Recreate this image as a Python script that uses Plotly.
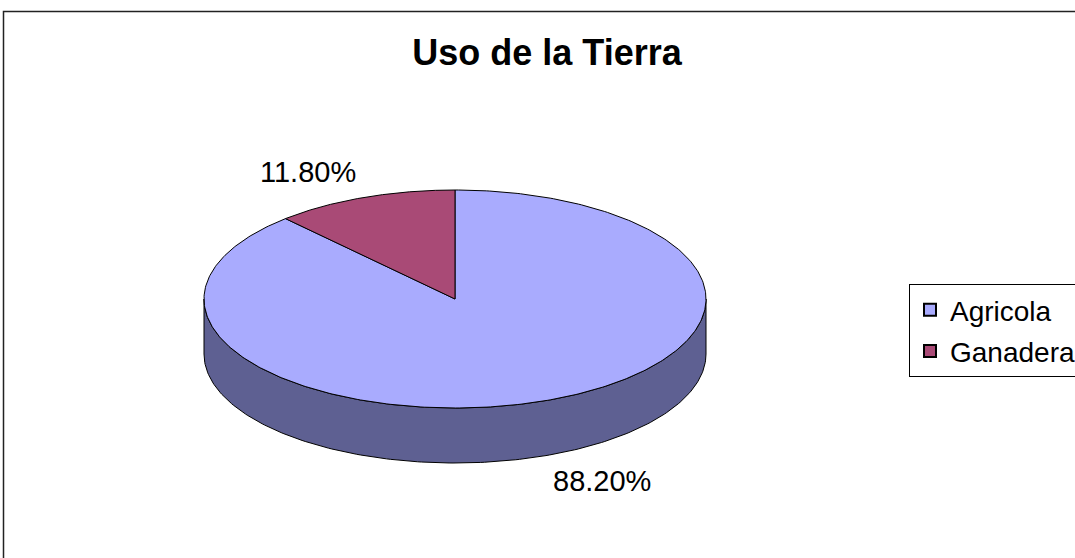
import numpy as np
import plotly.graph_objects as go

# ---- data ----
title_text = "Uso de la Tierra"
categories = ["Agricola", "Ganadera"]
values = [88.2, 11.8]
top_colors = ["#A9ABFE", "#A94A76"]
side_colors = ["#5E6092", "#6B2F4B"]

# ---- geometry (pixel space) ----
W, H = 1075, 558
cx, cy = 455.0, 299.0
rx, ry = 251.0, 109.0
depth = 55.0


def pt(theta_deg, dy=0.0):
    t = np.radians(theta_deg)
    return cx + rx * np.sin(t), cy - ry * np.cos(t) + dy


fig = go.Figure()

total = float(sum(values))
starts, ends = [], []
acc = 0.0
for v in values:
    starts.append(acc)
    acc += v / total * 360.0
    ends.append(acc)

# side walls (visible front half: theta 90..270)
for i, cat in enumerate(categories):
    a0, a1 = max(starts[i], 90.0), min(ends[i], 270.0)
    if a1 <= a0:
        continue
    th = np.linspace(a0, a1, 200)
    xs_top, ys_top = pt(th)
    xs_bot, ys_bot = pt(th[::-1], depth)
    xs = np.concatenate([xs_top, xs_bot, xs_top[:1]])
    ys = np.concatenate([ys_top, ys_bot, ys_top[:1]])
    fig.add_trace(go.Scatter(x=xs, y=ys, mode="lines", fill="toself",
                             fillcolor=side_colors[i],
                             line=dict(color="#000000", width=1),
                             hoverinfo="skip", showlegend=False))

# top faces
for i, cat in enumerate(categories):
    th = np.linspace(starts[i], ends[i], 400)
    ex, ey = pt(th)
    xs = np.concatenate([[cx], ex, [cx]])
    ys = np.concatenate([[cy], ey, [cy]])
    fig.add_trace(go.Scatter(x=xs, y=ys, mode="lines", fill="toself",
                             fillcolor=top_colors[i],
                             line=dict(color="#000000", width=1),
                             hoverinfo="skip", showlegend=False))

# percentage labels
for i, cat in enumerate(categories):
    mid = np.radians((starts[i] + ends[i]) / 2.0)
    lx = cx + 405.0 * np.sin(mid)
    ly = cy - 136.0 * np.cos(mid) + (depth if np.cos(mid) < 0 else 0.0)
    fig.add_annotation(x=lx, y=ly, xref="x", yref="y",
                       text=f"{values[i] / total * 100:.2f}%",
                       showarrow=False,
                       font=dict(family="Liberation Sans, Arial", size=29, color="#000000"))

# legend entries
for i, cat in enumerate(categories):
    fig.add_trace(go.Scatter(x=[None], y=[None], mode="markers", name=cat,
                             legendgroup=cat,
                             marker=dict(symbol="square", size=11, color=top_colors[i],
                                         line=dict(color="#000000", width=1))))

# chart border
fig.add_shape(type="rect", xref="x", yref="y", x0=3.5, y0=11.5, x1=W + 20, y1=H + 20,
              line=dict(color="#222222", width=1.5), fillcolor="rgba(0,0,0,0)", layer="above")

fig.update_layout(
    width=W, height=H, autosize=False,
    margin=dict(l=0, r=0, t=0, b=0, autoexpand=False),
    paper_bgcolor="white", plot_bgcolor="white",
    title=dict(text=f"<b>{title_text}</b>", x=547 / W, xanchor="center",
               y=1 - 52 / H, yanchor="middle",
               font=dict(family="Liberation Sans, Arial", size=36, color="#000000")),
    xaxis=dict(range=[0, W], visible=False, fixedrange=True),
    yaxis=dict(range=[H, 0], visible=False, fixedrange=True),
    showlegend=True,
    legend=dict(x=909 / W, xanchor="left", y=1 - 284 / H, yanchor="top",
                bordercolor="#000000", borderwidth=1, bgcolor="white",
                font=dict(family="Liberation Sans, Arial", size=28, color="#000000"),
                tracegroupgap=2, traceorder="grouped", itemsizing="constant"),
)

fig.write_html("out.html",
               config={"displayModeBar": False},
               post_script="document.body.style.margin='0';document.body.style.overflow='hidden';")
